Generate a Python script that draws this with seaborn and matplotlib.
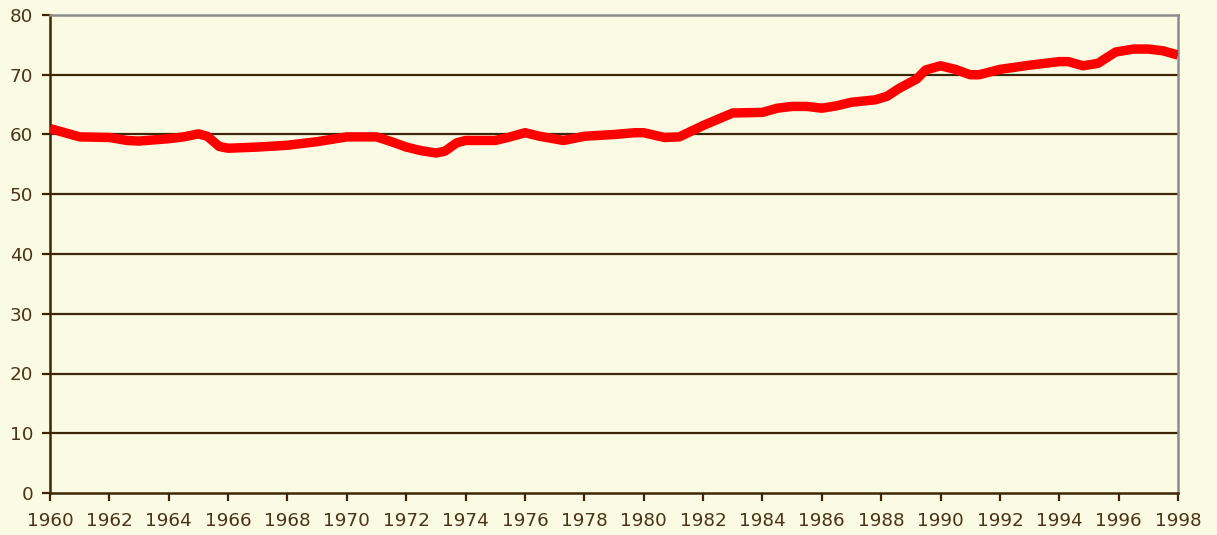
import numpy as np
import pandas as pd
import matplotlib
matplotlib.use("Agg")
import matplotlib.pyplot as plt
import seaborn as sns

years = [1960, 1961, 1962, 1962.6, 1963, 1964, 1964.5, 1965, 1965.3, 1965.7,
         1966, 1967, 1968, 1969, 1970, 1971, 1971.5, 1972, 1972.5, 1973,
         1973.3, 1973.7, 1974, 1975, 1975.5, 1976, 1976.5, 1977.3, 1978, 1979,
         1979.7, 1980, 1980.7, 1981.2, 1982, 1983, 1984, 1984.5, 1985, 1985.5,
         1986, 1986.5, 1987, 1987.8, 1988.2, 1988.6, 1989.2, 1989.5, 1990, 1990.5,
         1991, 1991.3, 1992, 1993, 1994, 1994.3, 1994.8, 1995.3, 1995.9, 1996.5,
         1997, 1997.5, 1998]
values = [61.0, 59.6, 59.5, 59.0, 58.9, 59.3, 59.6, 60.1, 59.7, 58.0,
          57.7, 57.9, 58.2, 58.8, 59.6, 59.6, 58.8, 57.9, 57.3, 56.9,
          57.2, 58.6, 59.0, 59.0, 59.6, 60.3, 59.7, 59.0, 59.7, 60.0,
          60.3, 60.3, 59.5, 59.6, 61.5, 63.6, 63.7, 64.4, 64.7, 64.7,
          64.4, 64.8, 65.4, 65.8, 66.4, 67.7, 69.3, 70.8, 71.5, 70.9,
          70.0, 70.0, 70.9, 71.6, 72.2, 72.2, 71.5, 71.9, 73.8, 74.3,
          74.3, 74.0, 73.3]
x_ticks = list(range(1960, 1999, 2))
y_ticks = list(range(0, 81, 10))

bg = "#FBFBE3"
txt = "#4A3418"
dark = "#3D2608"

df = pd.DataFrame({"year": years, "value": values})

sns.set_theme(style="white")
plt.rcParams["font.family"] = ["DejaVu Sans"]

fig = plt.figure(figsize=(12.17, 5.35), dpi=100, facecolor=bg)
ax = fig.add_axes([50/1217, 1 - 493/535, (1178 - 50)/1217, (493 - 15)/535])
ax.set_facecolor(bg)

for yv in y_ticks[1:-1]:
    ax.axhline(yv, color=dark, lw=1.6, zorder=1)

sns.lineplot(data=df, x="year", y="value", ax=ax, color="#FF0000", lw=6.8,
             solid_capstyle="butt", solid_joinstyle="round", zorder=3)

ax.set_xlim(1960, 1998)
ax.set_ylim(0, 80)
ax.set_xticks(x_ticks)
ax.set_yticks(y_ticks)
ax.set_xlabel("")
ax.set_ylabel("")
ax.tick_params(axis="both", colors=dark, labelcolor=txt, labelsize=13.2,
               direction="out", length=6, width=1.6, bottom=True, left=True)
ax.tick_params(axis="x", pad=8)
ax.tick_params(axis="y", pad=6)

for s in ["left", "bottom"]:
    ax.spines[s].set_color(dark)
    ax.spines[s].set_linewidth(1.8)
for s in ["top", "right"]:
    ax.spines[s].set_color("#8C8C8C")
    ax.spines[s].set_linewidth(1.8)
    ax.spines[s].set_visible(True)

fig.savefig("out.png", dpi=100, facecolor=bg)
